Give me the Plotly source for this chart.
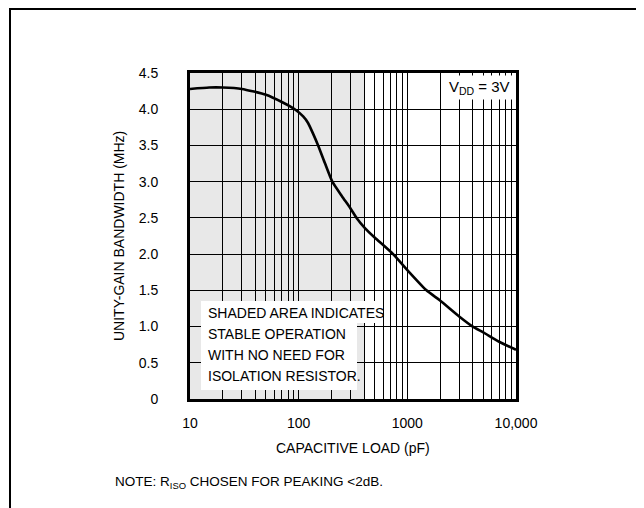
import plotly.graph_objects as go

# ---- data ----
cap_load_pf = [10, 15, 20, 30, 50, 70, 92, 110, 122, 135, 151, 175, 204, 250, 300, 341, 407,
               500, 740, 1000, 1500, 2000, 3000, 4000, 5000, 7000, 10000]
bandwidth_mhz = [4.28, 4.30, 4.30, 4.28, 4.20, 4.10, 4.00, 3.90, 3.81, 3.67, 3.50, 3.25, 3.00, 2.80,
                 2.63, 2.50, 2.36, 2.23, 2.00, 1.78, 1.50, 1.36, 1.14, 1.00, 0.92, 0.79, 0.68]
shaded_limit_pf = 400
x_major = [10, 100, 1000, 10000]
x_major_text = ["10", "100", "1000", "10,000"]
y_ticks = [0, 0.5, 1.0, 1.5, 2.0, 2.5, 3.0, 3.5, 4.0, 4.5]
y_tick_text = ["0", "0.5", "1.0", "1.5", "2.0", "2.5", "3.0", "3.5", "4.0", "4.5"]
note_lines = ["SHADED AREA INDICATES", "STABLE OPERATION", "WITH NO NEED FOR", "ISOLATION RESISTOR."]

FONT = "Liberation Sans, Arial, sans-serif"

# tick grid: all 1-9 multiples per decade
x_grid_vals = []
x_grid_text = []
for dec in [10, 100, 1000]:
    for m in range(1, 10):
        v = dec * m
        x_grid_vals.append(v)
        x_grid_text.append(x_major_text[x_major.index(v)] if v in x_major else "")
x_grid_vals.append(10000)
x_grid_text.append("10,000")

# page offset (body margin) compensation
OFF = 8
W, H = 644, 508
L, R, T, B = 190 - OFF, 516 - OFF, 73 - OFF, 399 - OFF
pw, ph = R - L, B - T


def px(xp):
    return (xp - OFF - L) / pw


def py(yp):
    return (B - (yp - OFF)) / ph


fig = go.Figure()
fig.add_trace(go.Scatter(
    x=cap_load_pf, y=bandwidth_mhz, mode="lines",
    line=dict(color="black", width=2.6, shape="spline", smoothing=0.5),
    hoverinfo="skip", showlegend=False,
))

shapes = [
    # shaded stable region
    dict(type="rect", xref="x", yref="y", x0=10, x1=shaded_limit_pf, y0=0, y1=4.5,
         fillcolor="#e8e8e8", line=dict(width=0), layer="below"),
    # white boxes behind the note text
    dict(type="rect", xref="paper", yref="paper", x0=px(201), x1=px(380), y0=py(323), y1=py(301),
         fillcolor="white", line=dict(width=0), layer="above"),
    dict(type="rect", xref="paper", yref="paper", x0=px(201), x1=px(357), y0=py(390), y1=py(322),
         fillcolor="white", line=dict(width=0), layer="above"),
    # page frame
    dict(type="rect", xref="paper", yref="paper", x0=px(10), x1=px(642), y0=py(530), y1=py(9),
         fillcolor="rgba(0,0,0,0)", line=dict(color="black", width=2), layer="above"),
]

annotations = []
for i, line in enumerate(note_lines):
    annotations.append(dict(
        text=line, xref="paper", yref="paper", x=px(206), y=py(313 + 21 * i),
        xanchor="left", yanchor="middle", align="left", showarrow=False,
        font=dict(family=FONT, size=14, color="black")))

annotations += [
    dict(text="V<sub>DD</sub> = 3V", xref="paper", yref="paper", x=px(513), y=py(75),
         xanchor="right", yanchor="top", showarrow=False, bgcolor="white", borderpad=2,
         font=dict(family=FONT, size=15, color="black")),
    dict(text="UNITY-GAIN BANDWIDTH (MHz)", xref="paper", yref="paper", x=px(119), y=0.5,
         xanchor="center", yanchor="middle", textangle=-90, showarrow=False,
         font=dict(family=FONT, size=14, color="black")),
    dict(text="CAPACITIVE LOAD (pF)", xref="paper", yref="paper", x=0.5, y=py(448),
         xanchor="center", yanchor="middle", showarrow=False,
         font=dict(family=FONT, size=14, color="black")),
    dict(text="NOTE: R<sub>ISO</sub> CHOSEN FOR PEAKING &lt;2dB.", xref="paper", yref="paper",
         x=px(113), y=py(482), xanchor="left", yanchor="middle", showarrow=False,
         font=dict(family=FONT, size=13.5, color="black")),
]

fig.update_layout(
    width=W, height=H,
    margin=dict(l=L, r=W - R, t=T, b=H - B, pad=0),
    paper_bgcolor="white", plot_bgcolor="white",
    font=dict(family=FONT, size=14, color="black"),
    shapes=shapes, annotations=annotations,
    showlegend=False,
)
fig.update_xaxes(
    type="log", range=[1, 4], tickmode="array", tickvals=x_grid_vals, ticktext=x_grid_text,
    showgrid=True, gridcolor="black", gridwidth=1, ticks="", ticklabelstandoff=9,
    showline=True, linecolor="black", linewidth=3, mirror=True, zeroline=False,
    tickfont=dict(family=FONT, size=14, color="black"),
)
fig.update_yaxes(
    range=[0, 4.5], tickmode="array", tickvals=y_ticks, ticktext=y_tick_text,
    showgrid=True, gridcolor="black", gridwidth=1, ticks="", ticklabelstandoff=26,
    showline=True, linecolor="black", linewidth=3, mirror=True, zeroline=False,
    tickfont=dict(family=FONT, size=14, color="black"),
)

fig.write_html("out.html")
